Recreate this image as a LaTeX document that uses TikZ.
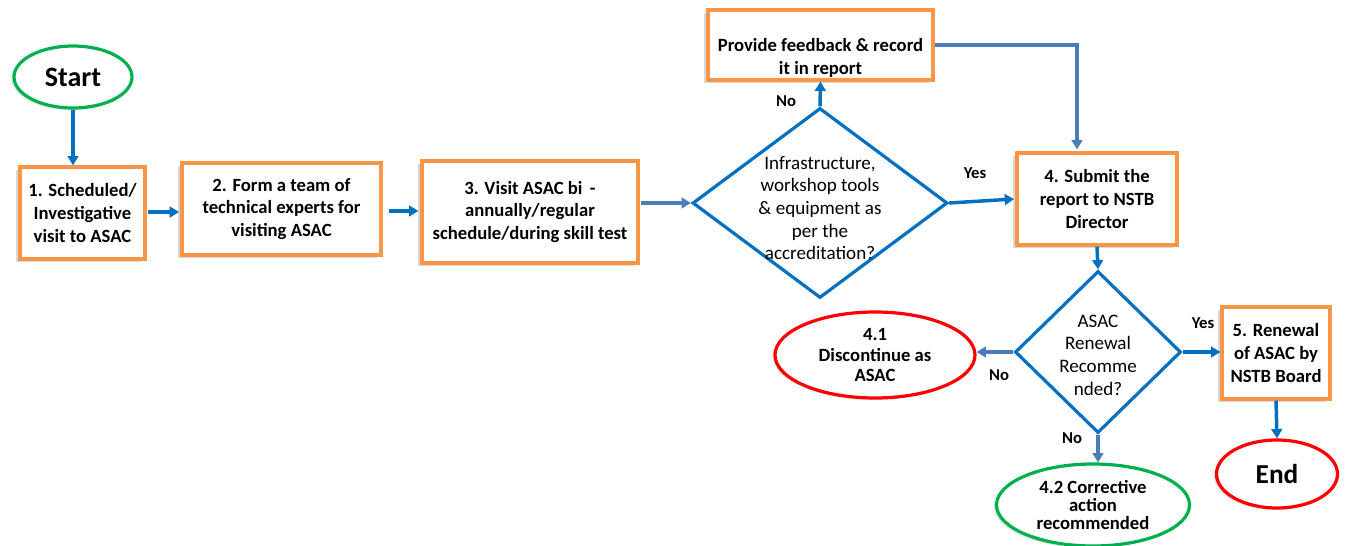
\documentclass[tikz,border=0pt]{standalone}
\usepackage{fontspec}
\setmainfont{Carlito}
\usetikzlibrary{shapes.geometric,arrows.meta,shadows,calc}
\definecolor{boxorange}{HTML}{F79646}
\definecolor{flowblue}{HTML}{0070C0}
\definecolor{steelblue}{HTML}{4A7EBB}
\definecolor{okgreen}{HTML}{00B050}
\definecolor{stopred}{HTML}{FF0000}
\tikzset{
  px/.style={x=0.75pt,y=-0.75pt},
  procbox/.style={draw=boxorange, line width=2.4pt, fill=white, rectangle,
    drop shadow={shadow xshift=-3pt, shadow yshift=-2.5pt, fill=black!30},
    inner sep=0pt, align=center, font=\bfseries\fontsize{14}{17}\selectfont},
  terminal/.style={ellipse, line width=2.4pt, fill=white, inner sep=0pt, align=center,
    drop shadow={shadow xshift=-2pt, shadow yshift=-1.5pt, fill=black!18}},
  decision/.style={diamond, draw=flowblue, line width=2.4pt, inner sep=0pt, fill=white},
  decisiontext/.style={align=center, font=\fontsize{14.3}{17}\selectfont, inner sep=0pt},
  lbl/.style={font=\bfseries\fontsize{12.5}{14}\selectfont, inner sep=0pt},
  flow/.style={draw=flowblue, line width=2.6pt, -{Triangle[length=7pt,width=8pt]}},
  flowlight/.style={draw=steelblue, line width=2.4pt, -{Triangle[length=7pt,width=8pt]}},
}
\begin{document}
\begin{tikzpicture}[px]
\useasboundingbox (0,0) rectangle (1349,546);

% start / end terminals
\node[terminal, draw=okgreen, minimum width=118*0.75pt, minimum height=62*0.75pt,
      font=\bfseries\fontsize{21}{22}\selectfont] (start) at (73,77) {Start};

% process boxes
\node[procbox, minimum width=125*0.75pt, minimum height=92*0.75pt] (b1) at (82.5,213)
  {1. Scheduled/\\Investigative\\visit to ASAC};
\node[procbox, minimum width=199*0.75pt, minimum height=92*0.75pt] (b2) at (281.5,209)
  {2. Form a team of\\technical experts for\\visiting ASAC};
\node[procbox, minimum width=216*0.75pt, minimum height=102*0.75pt] (b3) at (530,212)
  {3. Visit ASAC bi \,-\\annually/regular\\schedule/during skill test};

% first decision
\node[decision, minimum width=255*0.75pt, minimum height=190*0.75pt] (d1) at (820,203) {};
\node[decisiontext] (d1t) at (820,208)
  {Infrastructure,\\workshop tools\\\& equipment as\\per the\\accreditation?};

\node[procbox, minimum width=225*0.75pt, minimum height=70*0.75pt] (fb) at (820.5,45)
  {\strut\\Provide feedback \& record\\it in report};

\node[procbox, minimum width=160*0.75pt, minimum height=92*0.75pt] (b4) at (1097,199)
  {4. Submit the\\report to NSTB\\Director};

% second decision
\node[decision, minimum width=166*0.75pt, minimum height=162*0.75pt] (d2) at (1098,352) {};
\node[decisiontext] (d2t) at (1098,355)
  {ASAC\\Renewal\\Recomme\\nded?};

\node[terminal, draw=stopred, minimum width=200*0.75pt, minimum height=86*0.75pt,
      font=\bfseries\fontsize{14}{15.5}\selectfont] (e41) at (875,355)
  {4.1\\Discontinue as\\ASAC};
\node[terminal, draw=okgreen, minimum width=193*0.75pt, minimum height=82*0.75pt,
      font=\bfseries\fontsize{14}{13.5}\selectfont] (e42) at (1093,505)
  {4.2 Corrective\\action\\recommended};

\node[procbox, minimum width=108*0.75pt, minimum height=92*0.75pt] (b5) at (1276,353)
  {5. Renewal\\of ASAC by\\NSTB Board};
\node[terminal, draw=stopred, minimum width=121*0.75pt, minimum height=68*0.75pt,
      font=\bfseries\fontsize{20.5}{22}\selectfont] (end) at (1277,474) {End};

% connectors
\draw[flow] (start.south) -- (start.south |- b1.north);
\draw[flow] ([xshift=1pt]b1.east |- 0,212) -- ([xshift=-1pt]b2.west |- 0,212);
\draw[flow] ([xshift=5pt]b2.east |- 0,211) -- ([xshift=-1.5pt]b3.west |- 0,211);
\draw[flowlight] ([xshift=1pt]b3.east |- d1.west) -- (d1.west);
\draw[flow] (d1.north) -- (fb.south);
\draw[flowlight] (fb.east) -| ($(b4.north)+(-20,-2)$);
\draw[flow] (d1.east) -- ([xshift=-1pt]b4.west);
\draw[flow] (b4.south) -- (d2.north);
\draw[flowlight] (d2.west) -- (e41.east |- d2.west);
\draw[flow] (d2.east) -- (b5.west |- d2.east);
\draw[flow] (b5.south) -- (end.north);
\draw[flowlight] (d2.south) -- (d2.south |- e42.north);

% branch labels
\node[lbl] (l1) at (786,101) {No};
\node[lbl] (l2) at (975,173) {Yes};
\node[lbl] (l3) at (999,375) {No};
\node[lbl] (l4) at (1203,323) {Yes};
\node[lbl] (l5) at (1072,438) {No};
\end{tikzpicture}
\end{document}
